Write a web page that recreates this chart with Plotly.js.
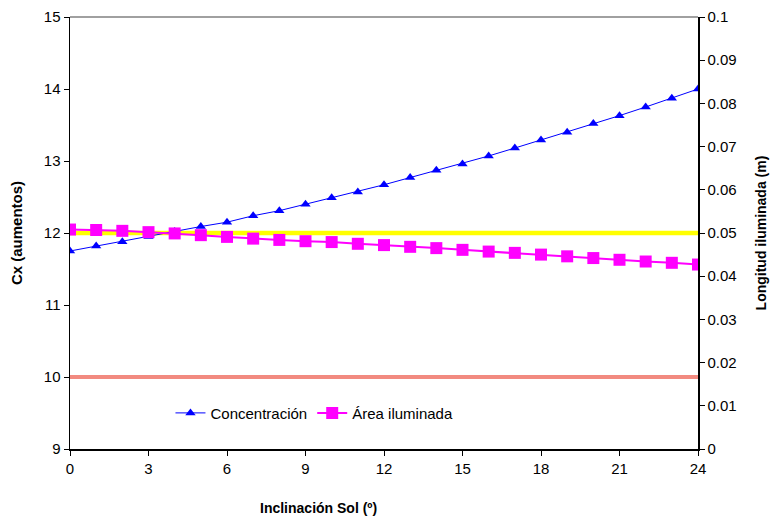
<!DOCTYPE html>
<html>
<head>
<meta charset="utf-8">
<script src="https://cdn.plot.ly/plotly-3.0.1.min.js"></script>
<style>html,body{margin:0;padding:0;background:#fff}#chart{width:774px;height:516px}</style>
</head>
<body>
<div id="chart"></div>
<script>
// Data
const inclinacion = [0,1,2,3,4,5,6,7,8,9,10,11,12,13,14,15,16,17,18,19,20,21,22,23,24];
const concentracion = [11.75,11.82,11.88,11.95,12.02,12.09,12.15,12.24,12.31,12.40,12.49,12.57,12.67,12.77,12.87,12.96,13.07,13.18,13.29,13.40,13.52,13.63,13.75,13.87,14.00];
const areaIluminada = [0.0508,0.0507,0.0505,0.0502,0.0499,0.0495,0.0491,0.0487,0.0484,0.0481,0.0479,0.0475,0.0472,0.0468,0.0465,0.0461,0.0457,0.0454,0.0450,0.0446,0.0442,0.0438,0.0434,0.0431,0.0427];
const refX = [0, 24];
const lineaAmarilla = [12, 12];
const lineaRoja = [10, 10];
const xTicks = [0,3,6,9,12,15,18,21,24];
const y2Ticks = [0,0.01,0.02,0.03,0.04,0.05,0.06,0.07,0.08,0.09,0.1];

const fam = 'Arial, "Liberation Sans", sans-serif';

const traces = [
  {x: refX, y: lineaRoja, mode: 'lines', line: {color: '#f28a80', width: 4}, showlegend: false, hoverinfo: 'skip', xaxis: 'x', yaxis: 'y'},
  {x: refX, y: lineaAmarilla, mode: 'lines', line: {color: '#ffff00', width: 4.5}, showlegend: false, hoverinfo: 'skip', xaxis: 'x', yaxis: 'y'},
  {x: inclinacion, y: concentracion, name: 'Concentración', mode: 'lines+markers',
   line: {color: '#0000ff', width: 1}, marker: {symbol: 'triangle-up', size: 9, color: '#0000ff'}, xaxis: 'x', yaxis: 'y'},
  {x: inclinacion, y: areaIluminada, name: 'Área iluminada', mode: 'lines+markers',
   line: {color: '#ff00ff', width: 2}, marker: {symbol: 'square', size: 12, color: '#ff00ff'}, xaxis: 'x', yaxis: 'y2'}
];

const layout = {
  width: 774, height: 516,
  margin: {l: 70, r: 76, t: 17, b: 67},
  paper_bgcolor: '#fff', plot_bgcolor: '#fff',
  font: {family: fam, size: 14, color: '#000'},
  showlegend: true,
  legend: {x: 0.16, y: 0.083, xanchor: 'left', yanchor: 'middle', orientation: 'h',
    bgcolor: 'rgba(0,0,0,0)', font: {family: fam, size: 15, color: '#000'}, itemwidth: 30, tracegroupgap: 0},
  xaxis: {range: [0, 24], tickvals: xTicks, ticktext: xTicks.map(String), showgrid: false, zeroline: false,
    showline: true, linecolor: '#000', linewidth: 1.5, ticks: 'outside', ticklen: 5, tickcolor: '#000',
    tickfont: {family: fam, size: 15}},
  yaxis: {range: [9, 15], dtick: 1, showgrid: false, zeroline: false, showline: true, linecolor: '#000', linewidth: 1.5,
    ticks: 'outside', ticklen: 5, tickcolor: '#000', tickfont: {family: fam, size: 15},
    title: {text: '<b>Cx (aumentos)</b>', font: {family: fam, size: 15}, standoff: 17}},
  yaxis2: {range: [0, 0.1], overlaying: 'y', side: 'right', showgrid: false, zeroline: false,
    showline: true, linecolor: '#000', linewidth: 1.5, ticks: 'outside', ticklen: 5, tickcolor: '#000',
    tickvals: y2Ticks, ticktext: y2Ticks.map(String),
    tickfont: {family: fam, size: 15},
    title: {text: '<b>Longitud iluminada (m)</b>', font: {family: fam, size: 14}, standoff: 20}},
  yaxis3: {range: [0, 0.1], overlaying: 'y', side: 'right', showgrid: false, zeroline: false,
    showline: false, ticks: 'inside', ticklen: 5, tickcolor: '#000', showticklabels: false,
    tickvals: y2Ticks},
  annotations: [
    {text: '<b>Inclinación Sol (º)</b>', xref: 'paper', yref: 'paper', x: 0.395, y: -0.137,
     xanchor: 'center', yanchor: 'middle', showarrow: false, font: {family: fam, size: 14, color: '#000'}}
  ],
  shapes: [
    {type: 'line', xref: 'paper', yref: 'paper', x0: 0, x1: 1, y0: 1, y1: 1, line: {color: '#808080', width: 1.5}}
  ]
};

Plotly.newPlot('chart', traces, layout, {displayModeBar: false, staticPlot: true});
</script>
</body>
</html>
